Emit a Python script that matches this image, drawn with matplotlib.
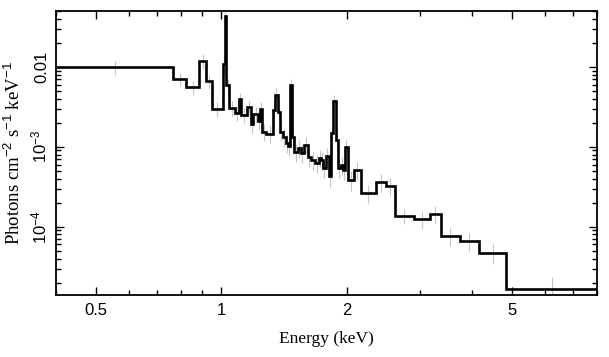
import matplotlib
matplotlib.use("Agg")
import matplotlib.pyplot as plt
import numpy as np
from matplotlib.ticker import FixedLocator, FixedFormatter, LogLocator, NullFormatter

# Bin edges (keV) and folded model (photons cm^-2 s^-1 keV^-1)
edges = [0.40, 0.766, 0.823, 0.885, 0.920, 0.951, 1.006, 1.017, 1.028, 1.045,
         1.075, 1.099, 1.117, 1.149, 1.175, 1.194, 1.221, 1.235, 1.255, 1.283,
         1.327, 1.342, 1.364, 1.380, 1.403, 1.427, 1.442, 1.458, 1.479, 1.491,
         1.525, 1.550, 1.576, 1.611, 1.639, 1.675, 1.713, 1.732, 1.751, 1.781,
         1.811, 1.831, 1.851, 1.882, 1.903, 1.935, 1.957, 1.978, 2.012, 2.080,
         2.163, 2.350, 2.485, 2.612, 2.902, 3.171, 3.371, 3.746, 4.162, 4.834,
         8.0]
model = [0.0100, 0.00708, 0.00562, 0.0119, 0.00659, 0.00299, 0.0109, 0.0434,
         0.00596, 0.00307, 0.00266, 0.00398, 0.00251, 0.00316, 0.00194, 0.00259,
         0.00211, 0.00299, 0.00154, 0.00145, 0.00290, 0.00447, 0.00274, 0.00154,
         0.00133, 0.00112, 0.00103, 0.00596, 0.00133, 0.000866, 0.000972,
         0.000841, 0.00106, 0.000750, 0.000688, 0.000631, 0.000729, 0.000688,
         0.000546, 0.000772, 0.000434, 0.00150, 0.00376, 0.00122, 0.000546,
         0.000596, 0.000516, 0.00100, 0.000387, 0.000516, 0.000266, 0.000365,
         0.000326, 0.000137, 0.000126, 0.000145, 7.72e-5, 6.68e-5, 4.73e-5,
         1.68e-5]
# relative error of the data points (grey crosses)
rel_err = [0.20, 0.18, 0.20, 0.22, 0.20, 0.22, 0.25, 0.15, 0.20, 0.22,
           0.22, 0.20, 0.22, 0.20, 0.24, 0.22, 0.24, 0.22, 0.24, 0.24,
           0.22, 0.20, 0.22, 0.24, 0.24, 0.25, 0.25, 0.18, 0.24, 0.25,
           0.25, 0.25, 0.24, 0.25, 0.25, 0.25, 0.25, 0.25, 0.26, 0.24,
           0.28, 0.22, 0.18, 0.22, 0.26, 0.25, 0.26, 0.22, 0.28, 0.26,
           0.25, 0.25, 0.25, 0.22, 0.25, 0.24, 0.25, 0.25, 0.28, 0.40]

xticks = [0.5, 1, 2, 5]
xticklabels = ["0.5", "1", "2", "5"]
yticks = [1e-4, 1e-3, 1e-2]
yticklabels = [r"$10^{-4}$", r"$10^{-3}$", "0.01"]

plt.rcParams["mathtext.fontset"] = "custom"
plt.rcParams["mathtext.rm"] = "Liberation Sans"
plt.rcParams["mathtext.it"] = "Liberation Sans:italic"

fig = plt.figure(figsize=(6.09, 3.57), dpi=100)
ax = fig.add_axes([56 / 609, 62 / 357, 541 / 609, 284 / 357])

e = np.array(edges)
centers = np.sqrt(e[:-1] * e[1:])
m = np.array(model)
err = m * np.array(rel_err)
ax.errorbar(centers, m, yerr=err, xerr=None, fmt="none", ecolor="#c4c4c4",
            elinewidth=0.8, zorder=1)
ax.stairs(m, e, baseline=None, color="black", linewidth=1.9, zorder=2)

ax.set_xscale("log")
ax.set_yscale("log")
ax.set_xlim(0.4, 8.0)
ax.set_ylim(1.4e-5, 0.05)

ax.xaxis.set_major_locator(FixedLocator(xticks))
ax.xaxis.set_major_formatter(FixedFormatter(xticklabels))
ax.xaxis.set_minor_locator(FixedLocator([0.4, 0.6, 0.7, 0.8, 0.9, 3, 4, 6, 7, 8]))
ax.xaxis.set_minor_formatter(NullFormatter())
ax.yaxis.set_major_locator(FixedLocator(yticks))
ax.yaxis.set_major_formatter(FixedFormatter(yticklabels))
ax.yaxis.set_minor_locator(LogLocator(base=10, subs=np.arange(2, 10)))
ax.yaxis.set_minor_formatter(NullFormatter())

ax.tick_params(which="both", direction="in", top=True, right=True, width=1.0,
               labelsize=12, colors="black")
ax.tick_params(which="major", length=6)
ax.tick_params(which="minor", length=3.5)
ax.tick_params(axis="x", pad=6)
ax.tick_params(axis="y", pad=5)
for lab in ax.get_xticklabels() + ax.get_yticklabels():
    lab.set_family("Liberation Sans")
for lab in ax.get_yticklabels():
    lab.set_rotation(90)
    lab.set_va("center")

for sp in ax.spines.values():
    sp.set_linewidth(1.3)

ax.set_xlabel("Energy (keV)", family="Liberation Serif", fontsize=12.5, labelpad=9)
ax.set_ylabel(r"Photons cm$^{-2}$ s$^{-1}$ keV$^{-1}$", family="Liberation Serif",
              fontsize=13.5, labelpad=4)

fig.savefig("out.png", dpi=100)
